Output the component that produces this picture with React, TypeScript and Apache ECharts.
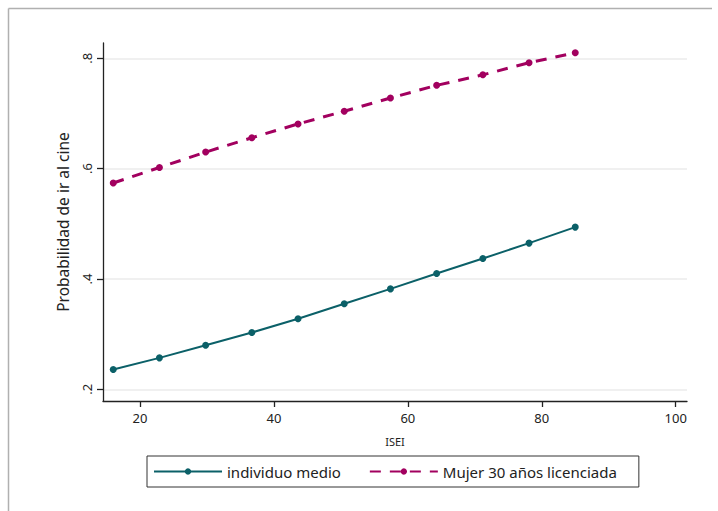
import React, { useEffect, useRef } from "react";
import * as echarts from "echarts";

const isei = [16, 22.9, 29.8, 36.7, 43.6, 50.5, 57.4, 64.3, 71.2, 78.1, 85];
const individuoMedio = [0.236, 0.257, 0.280, 0.303, 0.328, 0.355, 0.382, 0.410, 0.437, 0.465, 0.494];
const mujer30 = [0.574, 0.602, 0.630, 0.656, 0.681, 0.704, 0.728, 0.751, 0.770, 0.792, 0.810];
const xTicks = [20, 40, 60, 80, 100];
const yTicks = [0.2, 0.4, 0.6, 0.8];
const seriesNames = ["individuo medio", "Mujer 30 años licenciada"];

const TEAL = "#0b6068";
const MAGENTA = "#a2005f";
const FONT = "Noto Sans";

export default function App() {
  const ref = useRef<HTMLDivElement>(null);
  useEffect(() => {
    if (!ref.current) return;
    const chart = echarts.init(ref.current, undefined, { renderer: "svg" });
    chart.setOption({
      animation: false,
      backgroundColor: "#fff",
      textStyle: { fontFamily: FONT },
      graphic: [
        { type: "line", shape: { x1: 8.5, y1: 8.5, x2: 712, y2: 8.5 }, style: { stroke: "#b0b0b0", lineWidth: 1.5 } },
        { type: "line", shape: { x1: 8.5, y1: 8.5, x2: 8.5, y2: 511 }, style: { stroke: "#b0b0b0", lineWidth: 1.5 } },
      ],
      grid: { left: 103, right: 31, top: 43, bottom: 110, containLabel: false },
      xAxis: {
        type: "value",
        min: 14.47,
        max: 101.69,
        name: "ISEI",
        nameLocation: "middle",
        nameGap: 35,
        nameTextStyle: { fontSize: 11, color: "#222", fontFamily: FONT },
        axisLine: { show: true, onZero: false, lineStyle: { color: "#222", width: 1.3 } },
        axisTick: { show: true, customValues: xTicks, length: 6, lineStyle: { color: "#222", width: 1.3 } },
        axisLabel: { customValues: xTicks, fontSize: 13, color: "#222", margin: 10, fontFamily: FONT },
        splitLine: { show: false },
      },
      yAxis: {
        type: "value",
        min: 0.1788,
        max: 0.8277,
        name: "Probabilidad de ir al cine",
        nameLocation: "middle",
        nameGap: 32,
        nameRotate: 90,
        nameTextStyle: { fontSize: 15.5, color: "#222", fontFamily: FONT },
        axisLine: { show: true, onZero: false, lineStyle: { color: "#222", width: 1.3 } },
        axisTick: { show: true, customValues: yTicks, length: 6, lineStyle: { color: "#222", width: 1.3 } },
        axisLabel: {
          customValues: yTicks,
          rotate: 90,
          fontSize: 13,
          color: "#222",
          margin: 10,
          fontFamily: FONT,
          formatter: (v: number) => String(Math.round(v * 10) / 10).replace(/^0/, ""),
        },
        splitLine: { show: true, customValues: yTicks, lineStyle: { color: "#ebebeb", width: 1.5 } },
      },
      legend: {
        left: 147,
        top: 456,
        orient: "horizontal",
        itemWidth: 68,
        itemHeight: 8,
        itemGap: 28,
        padding: [8, 22, 8, 6],
        borderColor: "#333",
        borderWidth: 1,
        textStyle: { fontSize: 15, color: "#222", fontFamily: FONT },
        data: seriesNames,
      },
      series: [
        {
          name: seriesNames[0],
          type: "line",
          data: isei.map((x, i) => [x, individuoMedio[i]]),
          symbol: "circle",
          symbolSize: 7,
          lineStyle: { color: TEAL, width: 2 },
          itemStyle: { color: TEAL },
        },
        {
          name: seriesNames[1],
          type: "line",
          data: isei.map((x, i) => [x, mujer30[i]]),
          symbol: "circle",
          symbolSize: 7,
          lineStyle: { color: MAGENTA, width: 3, type: [11, 9] },
          itemStyle: { color: MAGENTA },
        },
      ],
    });
    return () => chart.dispose();
  }, []);
  return (
    <div
      ref={ref}
      style={{ position: "fixed", left: 0, top: 0, width: 718, height: 511 }}
    />
  );
}
